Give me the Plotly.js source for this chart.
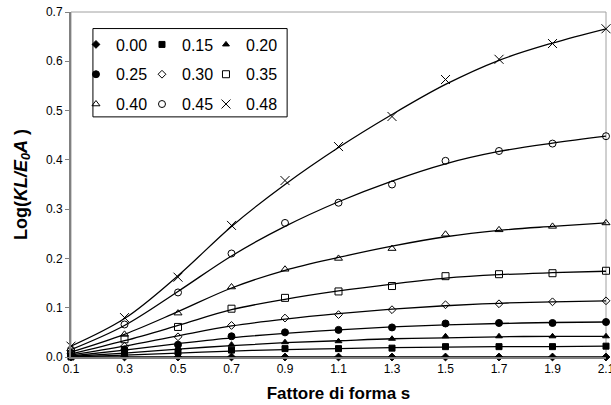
<!DOCTYPE html>
<html>
<head>
<meta charset="utf-8">
<script src="https://cdn.plot.ly/plotly-3.0.1.min.js"></script>
<style>html,body{margin:0;padding:0;background:#fff;}#chart{width:611px;height:405px;}</style>
</head>
<body>
<div id="chart"></div>
<script>
// Shape factor s (x axis)
const sValues = [0.1, 0.3, 0.5, 0.7, 0.9, 1.1, 1.3, 1.5, 1.7, 1.9, 2.1];
const xTickLabels = ["0.1", "0.3", "0.5", "0.7", "0.9", "1.1", "1.3", "1.5", "1.7", "1.9", "2.1"];
const yTickVals = [0, 0.1, 0.2, 0.3, 0.4, 0.5, 0.6, 0.7];

// Series names (legend labels)
const seriesNames = ["0.00", "0.15", "0.20", "0.25", "0.30", "0.35", "0.40", "0.45", "0.48"];

// Log(KL/E0A) data points (markers) for each series
const v000 = [0, 0, 0, 0, 0, 0, 0, 0, 0, 0, 0];
const v015 = [0.000, 0.005, 0.010, 0.014, 0.017, 0.017, 0.018, 0.021, 0.021, 0.021, 0.022];
const v020 = [0.001, 0.009, 0.018, 0.025, 0.030, 0.032, 0.037, 0.042, 0.042, 0.042, 0.042];
const v025 = [0.002, 0.015, 0.025, 0.042, 0.050, 0.055, 0.060, 0.068, 0.069, 0.069, 0.071];
const v030 = [0.004, 0.022, 0.041, 0.064, 0.079, 0.086, 0.096, 0.106, 0.108, 0.112, 0.114];
const v035 = [0.006, 0.036, 0.061, 0.098, 0.120, 0.133, 0.144, 0.164, 0.168, 0.170, 0.175];
const v040 = [0.010, 0.046, 0.089, 0.142, 0.178, 0.200, 0.220, 0.249, 0.258, 0.265, 0.272];
const v045 = [0.015, 0.066, 0.131, 0.210, 0.272, 0.313, 0.350, 0.398, 0.418, 0.433, 0.448];
const v048 = [0.022, 0.080, 0.162, 0.267, 0.358, 0.427, 0.488, 0.563, 0.604, 0.636, 0.666];

// Smooth fitted curves
const f000 = [0, 0, 0, 0, 0, 0, 0, 0, 0, 0, 0];
const f015 = [0.000, 0.004, 0.008, 0.012, 0.015, 0.017, 0.019, 0.020, 0.021, 0.021, 0.022];
const f020 = [0.001, 0.008, 0.016, 0.023, 0.029, 0.033, 0.037, 0.039, 0.041, 0.042, 0.042];
const f025 = [0.002, 0.014, 0.027, 0.039, 0.048, 0.055, 0.061, 0.065, 0.068, 0.070, 0.071];
const f030 = [0.004, 0.022, 0.043, 0.063, 0.077, 0.088, 0.097, 0.104, 0.109, 0.112, 0.114];
const f035 = [0.006, 0.033, 0.064, 0.096, 0.117, 0.134, 0.148, 0.160, 0.167, 0.171, 0.174];
const f040 = [0.010, 0.046, 0.092, 0.140, 0.176, 0.202, 0.225, 0.244, 0.257, 0.265, 0.272];
const f045 = [0.015, 0.064, 0.133, 0.205, 0.265, 0.315, 0.357, 0.392, 0.417, 0.434, 0.448];
const f048 = [0.022, 0.078, 0.165, 0.265, 0.350, 0.425, 0.492, 0.553, 0.602, 0.637, 0.666];

const seriesValues = [v000, v015, v020, v025, v030, v035, v040, v045, v048];
const fitValues = [f000, f015, f020, f025, f030, f035, f040, f045, f048];
const symbols = ["diamond", "square", "triangle-up", "circle", "diamond-open", "square-open", "triangle-up-open", "circle-open", "x-thin-open"];
const markerSizes = [6, 6, 6, 7, 6, 7, 7, 7, 9];
// legend column for each series (3 columns)
const legendFor = ["legend", "legend2", "legend3", "legend", "legend2", "legend3", "legend", "legend2", "legend3"];

const traces = [];
// smooth trend lines (no legend)
fitValues.forEach((vals, i) => {
  traces.push({
    x: sValues, y: vals, type: "scatter", mode: "lines",
    line: {color: "#000", width: 1.3, shape: "spline", smoothing: 1},
    showlegend: false, hoverinfo: "skip", cliponaxis: false
  });
});
// markers with legend
seriesValues.forEach((vals, i) => {
  traces.push({
    x: sValues, y: vals, type: "scatter", mode: "markers",
    name: seriesNames[i],
    legend: legendFor[i],
    legendgroup: "g" + i,
    marker: {symbol: symbols[i], size: markerSizes[i], color: "#000", line: {color: "#000", width: 1}},
    cliponaxis: false
  });
});

const legFont = {family: "Liberation Sans, Arial, sans-serif", size: 16, color: "#000"};
function leg(x) {
  return {x: x, y: 0.955, xanchor: "left", yanchor: "top", orientation: "v",
    bgcolor: "rgba(0,0,0,0)", borderwidth: 0, font: legFont, tracegroupgap: 6,
    itemwidth: 30, traceorder: "grouped"};
}

const layout = {
  width: 611, height: 405,
  margin: {l: 71, r: 5, t: 12, b: 48},
  paper_bgcolor: "#fff", plot_bgcolor: "#fff",
  font: {family: "Liberation Sans, Arial, sans-serif", size: 12, color: "#000"},
  xaxis: {
    range: [0.1, 2.1], tickvals: sValues, ticktext: xTickLabels,
    showgrid: false, zeroline: false, showline: true, linecolor: "#808080", linewidth: 2,
    ticks: "", automargin: false, ticklabeloverflow: "allow",
    tickfont: {size: 12},
    title: {text: "<b>Fattore di forma s</b>", font: {size: 17}, standoff: 12}
  },
  yaxis: {
    range: [0, 0.7], tickvals: yTickVals, tickformat: ".1f",
    showgrid: false, zeroline: false, showline: true, linecolor: "#808080", linewidth: 2,
    ticks: "outside", ticklen: 4, tickcolor: "#808080", tickwidth: 1, automargin: false,
    tickfont: {size: 12},
    title: {text: "<b>Log(<i>KL/E<sub>0</sub>A</i> )</b>", font: {size: 18}, standoff: 14}
  },
  legend: leg(0.0093),
  legend2: leg(0.1327),
  legend3: leg(0.2523),
  shapes: [
    {type: "rect", xref: "paper", yref: "paper", x0: 0, x1: 1, y0: 0, y1: 1,
     line: {color: "#a0a0a0", width: 1}, layer: "below"},
    {type: "rect", xref: "paper", yref: "paper", x0: 0.041, x1: 0.404, y0: 0.696, y1: 0.952,
     line: {color: "#000", width: 1}, fillcolor: "rgba(0,0,0,0)", layer: "above"}
  ],
  showlegend: true
};

Plotly.newPlot("chart", traces, layout, {staticPlot: true, displayModeBar: false});
</script>
</body>
</html>
